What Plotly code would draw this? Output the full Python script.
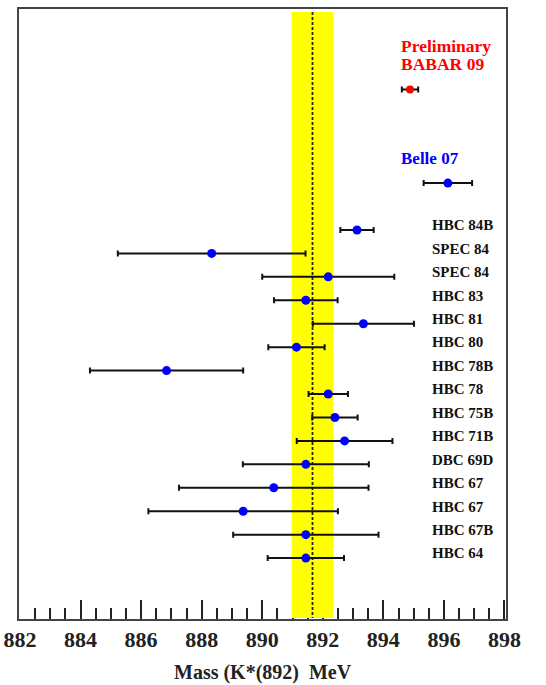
import plotly.graph_objects as go

# ---- data ----
labels = ["HBC 84B", "SPEC 84", "SPEC 84", "HBC 83", "HBC 81", "HBC 80", "HBC 78B",
          "HBC 78", "HBC 75B", "HBC 71B", "DBC 69D", "HBC 67", "HBC 67", "HBC 67B", "HBC 64"]
mass = [893.13, 888.33, 892.18, 891.44, 893.34, 891.13, 886.84,
        892.18, 892.40, 892.72, 891.44, 890.38, 889.37, 891.44, 891.44]
err = [0.55, 3.10, 2.18, 1.05, 1.67, 0.93, 2.53,
       0.65, 0.75, 1.58, 2.08, 3.13, 3.13, 2.40, 1.26]
rows = list(range(1, len(labels) + 1))

belle_label = "Belle 07"
belle_mass = [896.13]
belle_err = [0.80]
belle_row = [-1]

babar_label = ["Preliminary", "BABAR 09"]
babar_mass = [894.88]
babar_err = [0.27]
babar_row = [-5]

avg_mass = 891.66
avg_halfwidth = 0.69

x_ticks = list(range(882, 899, 2))
x_title = "Mass (K*(892)&nbsp; MeV"

# ---- layout constants ----
Y_TOP, Y_BOT = -8.43, 17.6
BAND_TOP = -8.30
SERIF = "Liberation Serif"

fig = go.Figure()

# yellow band (as a trace so it covers the inside ticks)
fig.add_trace(go.Scatter(
    x=[avg_mass - avg_halfwidth, avg_mass + avg_halfwidth,
       avg_mass + avg_halfwidth, avg_mass - avg_halfwidth, avg_mass - avg_halfwidth],
    y=[BAND_TOP, BAND_TOP, Y_BOT - 0.04, Y_BOT - 0.04, BAND_TOP],
    fill="toself", fillcolor="#ffff00", mode="none", hoverinfo="skip", showlegend=False))

# dashed central value
fig.add_trace(go.Scatter(
    x=[avg_mass, avg_mass], y=[BAND_TOP, Y_BOT - 0.04], mode="lines",
    line=dict(color="#222222", width=1.8, dash="3px,2px"), hoverinfo="skip", showlegend=False))

# older measurements
fig.add_trace(go.Scatter(
    x=mass, y=rows, mode="markers",
    marker=dict(color="#0000ff", size=9),
    error_x=dict(type="data", array=err, color="#111111", thickness=2, width=3),
    showlegend=False))

# Belle
fig.add_trace(go.Scatter(
    x=belle_mass, y=belle_row, mode="markers",
    marker=dict(color="#0000ff", size=9),
    error_x=dict(type="data", array=belle_err, color="#111111", thickness=2, width=3),
    showlegend=False))

# BABAR
fig.add_trace(go.Scatter(
    x=babar_mass, y=babar_row, mode="markers",
    marker=dict(color="#ff0000", size=8),
    error_x=dict(type="data", array=babar_err, color="#111111", thickness=2, width=3),
    showlegend=False))

# row labels
for lab, r in zip(labels, rows):
    fig.add_annotation(x=895.53, y=r - 0.2, text=lab, showarrow=False,
                       xanchor="left", yanchor="middle",
                       font=dict(family=SERIF, size=15, color="#111111", weight="bold"))

fig.add_annotation(x=894.51, y=belle_row[0] - 1.07, text=belle_label, showarrow=False,
                   xanchor="left", yanchor="middle",
                   font=dict(family=SERIF, size=17, color="#0000ff", weight="bold"))
fig.add_annotation(x=894.51, y=babar_row[0] - 1.84, text=babar_label[0], showarrow=False,
                   xanchor="left", yanchor="middle",
                   font=dict(family=SERIF, size=17.5, color="#ff0000", weight="bold"))
fig.add_annotation(x=894.51, y=babar_row[0] - 1.07, text=babar_label[1], showarrow=False,
                   xanchor="left", yanchor="middle",
                   font=dict(family=SERIF, size=17.5, color="#ff0000", weight="bold"))

# axis title as annotation below the plot
fig.add_annotation(xref="paper", yref="paper", x=0.5, y=0, yshift=-53, text=x_title,
                   showarrow=False, xanchor="center", yanchor="middle",
                   font=dict(family=SERIF, size=20, color="#222222", weight="bold"))

fig.update_layout(
    width=546, height=685,
    margin=dict(l=19, r=40, t=9, b=66, autoexpand=False),
    paper_bgcolor="white", plot_bgcolor="white",
    showlegend=False,
)
fig.update_xaxes(
    range=[881.967, 898.05], tickvals=x_ticks, ticktext=[str(v) for v in x_ticks],
    ticks="inside", ticklen=19, tickwidth=1.8, tickcolor="#222222",
    minor=dict(dtick=0.5, tick0=882, ticks="inside", ticklen=11, tickwidth=1.5, tickcolor="#222222"),
    showline=True, linecolor="#444444", linewidth=2, mirror=True,
    showgrid=False, zeroline=False, layer="below traces", automargin=False,
    tickfont=dict(family=SERIF, size=22, color="#222222", weight="bold"),
)
fig.update_yaxes(
    range=[Y_BOT, Y_TOP], showticklabels=False, ticks="",
    showline=True, linecolor="#444444", linewidth=2, mirror=True,
    showgrid=False, zeroline=False, automargin=False,
)

fig.write_html("out.html")
